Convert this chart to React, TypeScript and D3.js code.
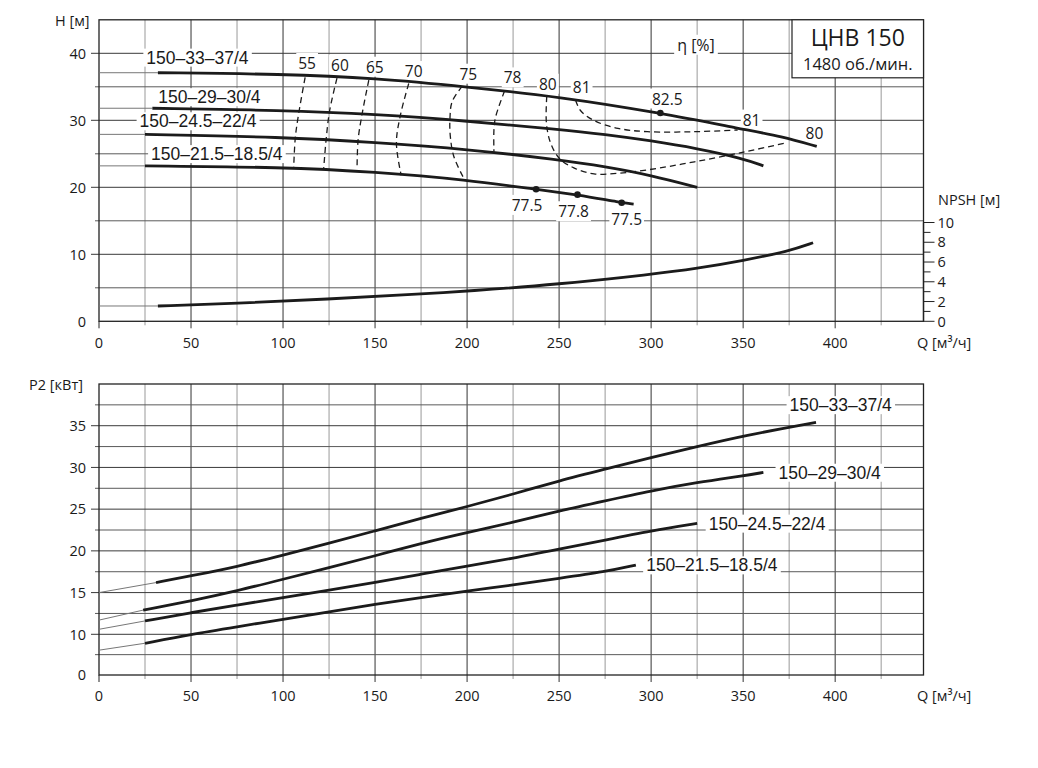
import React, { useRef, useEffect } from 'react';
import * as d3 from 'd3';

const WIDTH = 1038;
const HEIGHT = 768;
const Q_MAX = 448;

const Q_LABELS = [0, 50, 100, 150, 200, 250, 300, 350, 400];
const H_LABELS = [0, 10, 20, 30, 40];
const NPSH_LABELS = [0, 2, 4, 6, 8, 10];
const P_LABELS = [0, 10, 15, 20, 25, 30, 35];
const P_GRID = [5, 10, 12.5, 15, 17.5, 20, 22.5, 25, 27.5, 30, 32.5, 35, 37.5];

const MODELS = ['150–33–37/4', '150–29–30/4', '150–24.5–22/4', '150–21.5–18.5/4'];

// H(Q) curves, m
const headQ1 = [0, 32, 100, 150, 200, 250, 305, 350, 371, 390];
const headH1 = [37.1, 37.1, 36.9, 36.3, 35.0, 33.5, 31.1, 28.65, 27.6, 26.1];
const headQ2 = [0, 29, 100, 150, 200, 250, 275, 300, 325, 350, 361];
const headH2 = [31.8, 31.8, 31.5, 30.9, 29.9, 28.65, 27.9, 26.95, 25.8, 24.3, 23.2];
const headQ3 = [0, 25, 100, 150, 200, 250, 275, 300, 325];
const headH3 = [27.9, 27.9, 27.5, 26.7, 25.7, 24.1, 23.1, 21.8, 20.0];
const headQ4 = [0, 25, 100, 150, 200, 237.5, 260, 284, 290.5];
const headH4 = [23.2, 23.2, 23.0, 22.3, 21.1, 19.7, 18.9, 17.7, 17.5];
const HEAD_START = [32, 29, 25, 25];

// NPSH(Q), m
const npshQ = [0, 32, 74, 124, 174, 200, 250, 300, 325, 350, 375, 388];
const npshV = [1.55, 1.55, 1.8, 2.25, 2.75, 3.05, 3.75, 4.75, 5.35, 6.15, 7.1, 7.95];
const NPSH_START = 32;

// P2(Q), kW
const powQ1 = [0, 31, 50, 75, 100, 125, 150, 175, 200, 225, 250, 275, 300, 325, 350, 389.6];
const powP1 = [15.0, 16.2, 17.0, 18.1, 19.5, 20.9, 22.4, 23.9, 25.3, 26.8, 28.4, 29.8, 31.2, 32.5, 33.8, 35.4];
const powQ2 = [0, 24, 50, 75, 100, 125, 150, 175, 200, 225, 250, 275, 300, 325, 350, 361];
const powP2 = [11.7, 12.9, 14.0, 15.2, 16.6, 18.0, 19.4, 20.9, 22.2, 23.4, 24.8, 26.0, 27.2, 28.2, 29.0, 29.4];
const powQ3 = [0, 25, 50, 75, 100, 125, 150, 175, 200, 225, 250, 275, 300, 325];
const powP3 = [10.6, 11.6, 12.6, 13.5, 14.4, 15.3, 16.2, 17.2, 18.2, 19.1, 20.2, 21.3, 22.4, 23.3];
const powQ4 = [0, 25, 50, 75, 100, 125, 150, 175, 200, 225, 250, 275, 291.7];
const powP4 = [6.1, 7.8, 10.0, 10.9, 11.8, 12.7, 13.6, 14.4, 15.2, 15.9, 16.7, 17.5, 18.3];
const POWER_START = [31, 24, 25, 25];

// iso-efficiency lines (Q, H)
const ETA_NAMES = ['55', '60', '65', '70', '75', '78', '80', '81'];
const etaQ55 = [112, 108.8, 106.7, 105.8];
const etaH55 = [36.4, 31.5, 27.5, 23.0];
const etaQ60 = [129.3, 125.3, 123.4, 122.1];
const etaH60 = [36.3, 31.4, 27.1, 22.8];
const etaQ65 = [146.6, 143.0, 140.8, 140.2];
const etaH65 = [36.0, 31.0, 27.1, 22.8];
const etaQ70 = [168.3, 163.8, 161.6, 164.2];
const etaH70 = [35.5, 30.8, 26.6, 21.8];
const etaQ75 = [197.4, 191.9, 190.7, 190.9, 192.8, 198.3];
const etaH75 = [35.1, 32.8, 30.3, 27.6, 24.6, 21.3];
const etaQ78 = [220.4, 215.5, 214.6, 214.6];
const etaH78 = [34.4, 30.5, 28.6, 25.3];
const etaQ80 = [243.3, 243.1, 245.4, 250.2, 258, 269, 282, 298, 323.5, 351, 373];
const etaH80 = [33.6, 29.6, 26.6, 24.3, 22.9, 22.0, 22.1, 22.6, 23.8, 25.3, 26.6];
const etaQ81 = [259, 261.5, 268.7, 282, 298, 323.7, 347];
const etaH81 = [33.0, 31.5, 30.0, 28.8, 28.3, 28.3, 28.55];

// duty points on the H(Q) curves
const DUTY_Q = [305, 237.5, 260, 284];
const DUTY_H = [31.1, 19.7, 18.9, 17.7];
const DUTY_ETA = ['82.5', '77.5', '77.8', '77.5'];

const NUM_FONT = '"Open Sans", "Noto Sans", sans-serif';
const LBL_FONT = '"Liberation Sans", Arial, sans-serif';

type Pt = [number, number];
const zip = (a: number[], b: number[]): Pt[] => a.map((v, i) => [v, b[i]]);

export default function App() {
  const svgRef = useRef<SVGSVGElement>(null);

  useEffect(() => {
    if (!svgRef.current) return;
    const svg = d3.select(svgRef.current);
    svg.selectAll('*').remove();

    const x = d3.scaleLinear().domain([0, Q_MAX]).range([99, 923.5]);
    const yH = d3.scaleLinear().domain([0, 45]).range([321.3, 19.8]);
    const yN = d3.scaleLinear().domain([0, 10]).range([321.3, 222.5]);
    const yP = d3.scaleLinear().domain([0, 10, 40]).range([675, 634.3, 384]);

    const label = (
      g: d3.Selection<SVGGElement, unknown, null, undefined>,
      px: number,
      py: number,
      txt: string,
      size: number,
      font: string,
      anchor = 'middle',
      pad = 3
    ) => {
      const t = g
        .append('text')
        .attr('x', px)
        .attr('y', py)
        .attr('dy', '0.36em')
        .attr('text-anchor', anchor)
        .attr('font-size', size)
        .attr('font-family', font)
        .attr('fill', '#1a1a1a')
        .text(txt);
      const b = (t.node() as SVGTextElement).getBBox();
      g.insert('rect', () => t.node() as any)
        .attr('x', b.x - pad)
        .attr('y', b.y + 1)
        .attr('width', b.width + pad * 2)
        .attr('height', b.height - 2)
        .attr('fill', '#fff');
    };

    const drawFrame = (
      y: d3.ScaleLinear<number, number>,
      yGrid: number[],
      yLabels: number[],
      yTop: number
    ) => {
      const g = svg.append('g');
      const y0 = y(0);
      // vertical grid
      for (let q = 25; q <= 425; q += 25) {
        g.append('line')
          .attr('x1', x(q)).attr('x2', x(q))
          .attr('y1', y(yTop)).attr('y2', y0 + (q % 50 === 0 ? 7 : 4))
          .attr('stroke', q % 50 === 0 ? '#333' : '#999')
          .attr('stroke-width', 1);
      }
      // horizontal grid
      yGrid.forEach((v) => {
        const major = yLabels.includes(v);
        g.append('line')
          .attr('x1', x(0) - (major ? 8 : 4)).attr('x2', x(Q_MAX))
          .attr('y1', y(v)).attr('y2', y(v))
          .attr('stroke', major ? '#3a3a3a' : '#5a5a5a')
          .attr('stroke-width', 1);
      });
      g.append('rect')
        .attr('x', x(0)).attr('y', y(yTop))
        .attr('width', x(Q_MAX) - x(0)).attr('height', y0 - y(yTop))
        .attr('fill', 'none').attr('stroke', '#222').attr('stroke-width', 1.3);
      g.append('line')
        .attr('x1', x(0)).attr('x2', x(0)).attr('y1', y0).attr('y2', y0 + 7)
        .attr('stroke', '#222');
      yLabels.forEach((v) => {
        g.append('text')
          .attr('x', x(0) - 13).attr('y', y(v)).attr('dy', '0.36em')
          .attr('text-anchor', 'end').attr('font-size', 14.5)
          .attr('font-family', NUM_FONT).attr('fill', '#1a1a1a')
          .text(v);
      });
      Q_LABELS.forEach((q) => {
        g.append('text')
          .attr('x', x(q)).attr('y', y0 + 21).attr('dy', '0.36em')
          .attr('text-anchor', 'middle').attr('font-size', 14.5)
          .attr('font-family', NUM_FONT).attr('fill', '#1a1a1a')
          .text(q);
      });
      g.append('text')
        .attr('x', 917).attr('y', y0 + 21).attr('dy', '0.36em')
        .attr('font-size', 14.5).attr('font-family', NUM_FONT).attr('fill', '#1a1a1a')
        .text('Q [м³/ч]');
      return g;
    };

    // ---------- top chart: H(Q), NPSH ----------
    const top = drawFrame(yH, d3.range(5, 45, 5), H_LABELS, 45);
    top.append('text')
      .attr('x', 55).attr('y', 21).attr('dy', '0.36em')
      .attr('font-size', 14.5).attr('font-family', NUM_FONT).attr('fill', '#1a1a1a')
      .text('H [м]');

    // NPSH axis
    const xr = x(Q_MAX);
    top.append('line')
      .attr('x1', xr).attr('x2', xr).attr('y1', yN(0)).attr('y2', yN(10))
      .attr('stroke', '#222').attr('stroke-width', 1.3);
    d3.range(0, 11).forEach((v) => {
      top.append('line')
        .attr('x1', xr).attr('x2', xr + (v % 2 === 0 ? 11 : 7))
        .attr('y1', yN(v)).attr('y2', yN(v))
        .attr('stroke', '#222');
    });
    NPSH_LABELS.forEach((v) => {
      top.append('text')
        .attr('x', xr + 14).attr('y', yN(v)).attr('dy', '0.36em')
        .attr('font-size', 14.5).attr('font-family', NUM_FONT).attr('fill', '#1a1a1a')
        .text(v);
    });
    top.append('text')
      .attr('x', 938).attr('y', 200).attr('dy', '0.36em')
      .attr('font-size', 14.5).attr('font-family', NUM_FONT).attr('fill', '#1a1a1a')
      .text('NPSH [м]');

    // title box
    const bx = 792;
    top.append('rect')
      .attr('x', bx).attr('y', yH(45)).attr('width', xr - bx).attr('height', 58)
      .attr('fill', '#fff').attr('stroke', '#222').attr('stroke-width', 1.2);
    top.append('text')
      .attr('x', (bx + xr) / 2).attr('y', 38).attr('dy', '0.36em')
      .attr('text-anchor', 'middle').attr('font-size', 23).attr('font-family', NUM_FONT)
      .attr('fill', '#1a1a1a').text('ЦНВ 150');
    top.append('text')
      .attr('x', (bx + xr) / 2).attr('y', 64).attr('dy', '0.36em')
      .attr('text-anchor', 'middle').attr('font-size', 16.5).attr('font-family', NUM_FONT)
      .attr('fill', '#1a1a1a').text('1480 об./мин.');

    // labels (drawn before the curves so their white boxes cut the grid only)
    const topLabelPos: Pt[] = [[53.5, 39.4], [60, 33.5], [53.8, 29.9], [64, 25.0]];
    MODELS.forEach((m, i) => label(top, x(topLabelPos[i][0]), yH(topLabelPos[i][1]), m, 17.5, LBL_FONT));
    label(top, 696, 45, 'η [%]', 16, NUM_FONT);

    const etaSets: Pt[][] = [
      zip(etaQ55, etaH55), zip(etaQ60, etaH60), zip(etaQ65, etaH65), zip(etaQ70, etaH70),
      zip(etaQ75, etaH75), zip(etaQ78, etaH78), zip(etaQ80, etaH80), zip(etaQ81, etaH81),
    ];
    const etaOff: Pt[] = [[2, -14], [3, -13], [6, -13], [5, -12], [6, -12], [8, -13], [1, -12], [6, -13]];
    etaSets.forEach((pts, i) => {
      label(top, x(pts[0][0]) + etaOff[i][0], yH(pts[0][1]) + etaOff[i][1], ETA_NAMES[i], 15.5, NUM_FONT, 'middle', 2);
    });
    // right-hand ends of the 80 and 81 loops
    const e80 = etaSets[6][etaSets[6].length - 1];
    const e81 = etaSets[7][etaSets[7].length - 1];
    label(top, x(e81[0]) + 14, yH(e81[1]) - 10, '81', 15.5, NUM_FONT, 'middle', 2);
    label(top, x(e80[0]) + 29, yH(e80[1]) - 10, '80', 15.5, NUM_FONT, 'middle', 2);

    const dutyOff: Pt[] = [[7, -14], [-9, 16], [-4, 17], [5, 17]];
    DUTY_Q.forEach((q, i) => {
      label(top, x(q) + dutyOff[i][0], yH(DUTY_H[i]) + dutyOff[i][1], DUTY_ETA[i], 15.5, NUM_FONT, 'middle', 2);
    });

    const drawCurve = (
      g: d3.Selection<SVGGElement, unknown, null, undefined>,
      pts: Pt[],
      start: number,
      y: d3.ScaleLinear<number, number>
    ) => {
      const line = d3
        .line<Pt>()
        .x((d) => x(d[0]))
        .y((d) => y(d[1]))
        .curve(d3.curveBasis);
      g.append('path')
        .attr('d', line(pts.filter((d) => d[0] <= start)) ?? '')
        .attr('fill', 'none').attr('stroke', '#777').attr('stroke-width', 1);
      g.append('path')
        .attr('d', line(pts.filter((d) => d[0] >= start)) ?? '')
        .attr('fill', 'none').attr('stroke', '#1b1b1b').attr('stroke-width', 2.8)
        .attr('stroke-linecap', 'butt');
    };

    // dashed iso-efficiency lines
    const etaLine = d3
      .line<Pt>()
      .x((d) => x(d[0]))
      .y((d) => yH(d[1]))
      .curve(d3.curveCatmullRom.alpha(0.5));
    etaSets.forEach((pts) => {
      top.append('path')
        .attr('d', etaLine(pts) ?? '')
        .attr('fill', 'none').attr('stroke', '#1b1b1b').attr('stroke-width', 1.3)
        .attr('stroke-dasharray', '6 4');
    });

    const headSets: Pt[][] = [zip(headQ1, headH1), zip(headQ2, headH2), zip(headQ3, headH3), zip(headQ4, headH4)];
    headSets.forEach((pts, i) => drawCurve(top, pts, HEAD_START[i], yH));
    drawCurve(top, zip(npshQ, npshV), NPSH_START, yN);

    DUTY_Q.forEach((q, i) => {
      top.append('circle').attr('cx', x(q)).attr('cy', yH(DUTY_H[i])).attr('r', 3.3).attr('fill', '#1b1b1b');
    });

    // ---------- bottom chart: P2(Q) ----------
    const bot = drawFrame(yP, P_GRID, P_LABELS, 40);
    bot.append('text')
      .attr('x', 29).attr('y', 385).attr('dy', '0.36em')
      .attr('font-size', 14.5).attr('font-family', NUM_FONT).attr('fill', '#1a1a1a')
      .text('P2 [кВт]');

    const botLabelPos: Pt[] = [[403, 37.5], [397, 29.4], [363, 23.3], [333, 18.3]];
    MODELS.forEach((m, i) => label(bot, x(botLabelPos[i][0]), yP(botLabelPos[i][1]), m, 17.5, LBL_FONT));

    const powSets: Pt[][] = [zip(powQ1, powP1), zip(powQ2, powP2), zip(powQ3, powP3), zip(powQ4, powP4)];
    powSets.forEach((pts, i) => drawCurve(bot, pts, POWER_START[i], yP));
  }, []);

  return (
    <svg
      ref={svgRef}
      width={WIDTH}
      height={HEIGHT}
      style={{ position: 'absolute', left: 0, top: 0, background: '#fff' }}
    />
  );
}
